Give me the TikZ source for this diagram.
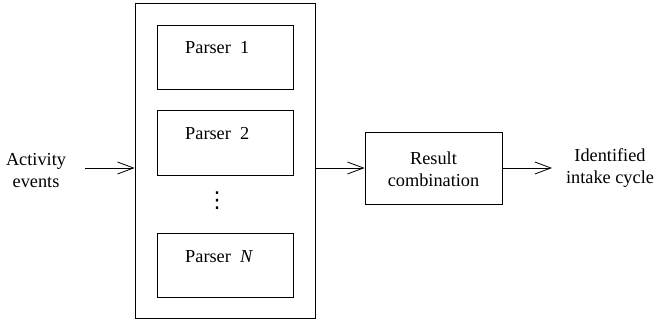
\documentclass[tikz,border=0pt]{standalone}
\usepackage{fontspec}
\setmainfont{Liberation Serif}
\newfontfamily\dejavu{DejaVu Sans}
\usetikzlibrary{arrows.meta}
\begin{document}
\begin{tikzpicture}[x=1pt,y=-1pt,
  every node/.style={font=\fontsize{18.3}{22}\selectfont},
  box/.style={draw, line width=0.8pt, inner sep=0pt},
  lbl/.style={align=center, inner sep=0pt},
  arr/.style={line width=0.8pt, -{Straight Barb[length=16pt,width=12pt,line width=0.8pt]}}]
\useasboundingbox (0,0) rectangle (658,326);
\node[box, minimum width=180pt, minimum height=315pt] (outer) at (225,160.5) {};
\node[box, minimum width=136pt, minimum height=64pt] (p1) at (225,57) {};
\node[box, minimum width=136pt, minimum height=65pt] (p2) at (225,142.5) {};
\node[box, minimum width=136pt, minimum height=64pt] (pn) at (225,265) {};
\node[lbl, anchor=west] (t1) at (185,48) {Parser\ \ 1};
\node[lbl, anchor=west] (t2) at (185,134) {Parser\ \ 2};
\node[lbl, anchor=west] (tn) at (185,257) {Parser\ \ \textit{N}};
\node[lbl] (dots) at (217,201) {\dejavu\fontsize{22}{22}\selectfont ⋮};
\node[box, minimum width=137pt, minimum height=72pt] (res) at (433.5,168) {};
\node[lbl] (rest) at (433.5,169) {Result\\combination};
\node[lbl] (act) at (36,171) {Activity\\events};
\node[lbl] (idc) at (610,168) {Identified\\intake cycle};
\coordinate (ain) at (85,168);
\coordinate (aout) at (552,168);
\draw[arr] (ain) -- (ain -| outer.west);
\draw[arr] (outer.east |- res.west) -- (res.west);
\draw[arr] (res.east) -- (aout);
\end{tikzpicture}
\end{document}
